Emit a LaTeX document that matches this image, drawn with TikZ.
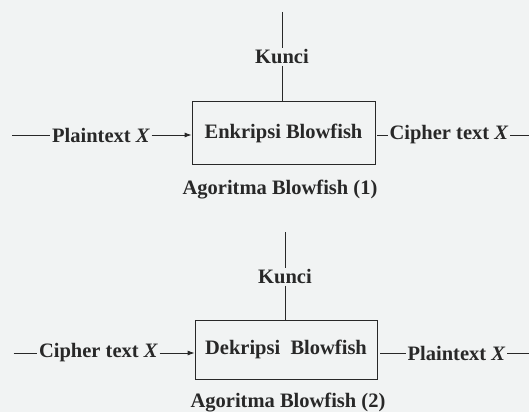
\documentclass[tikz,border=0pt]{standalone}
\usepackage{fontspec}
\setmainfont{Liberation Serif}
\usetikzlibrary{arrows.meta}
\definecolor{paper}{RGB}{241,243,243}
\definecolor{ink}{RGB}{40,40,40}
\tikzset{
  lbl/.style={text=ink, font=\fontsize{20.5}{24}\selectfont\bfseries, inner sep=1.5pt},
  blk/.style={draw=ink, line width=0.8pt, minimum width=183pt, minimum height=63pt, inner sep=0pt, lbl},
  wire/.style={draw=ink, line width=0.8pt},
  arr/.style={wire, -{Latex[length=7pt,width=5pt]}}
}
\begin{document}
\begin{tikzpicture}[x=1pt,y=-1pt]
\fill[paper] (0,0) rectangle (529,412);
\useasboundingbox (0,0) rectangle (529,412);
% ---- diagram 1
\node[blk] (box1) at (283.5,133) {Enkripsi Blowfish};
\node[lbl] (key1) at (282,57) {Kunci};
\coordinate (top1) at (282,12);
\draw[wire] (top1) -- (key1.north);
\draw[wire] (key1.south) -- (key1.south |- box1.north);
\coordinate (l1) at (12,135);
\node[lbl] (in1) at (101,135) {Plaintext \textit{X}};
\draw[wire] (l1) -- (in1.west);
\draw[arr] (in1.east) -- (in1.east -| box1.west);
\node[lbl] (out1) at (449,135) {Cipher text \textit{X}};
\coordinate (r1) at (529,135);
\draw[wire, shorten <=2pt] (out1.west -| box1.east) -- (out1.west);
\draw[wire] (out1.east) -- (r1);
\node[lbl] (cap1) at (280,190) {Agoritma Blowfish (1)};
% ---- diagram 2
\node[blk, minimum width=182pt, minimum height=59pt] (box2) at (286,349.5) {Dekripsi\ \ Blowfish};
\node[lbl] (key2) at (285,277) {Kunci};
\coordinate (top2) at (285,232);
\draw[wire] (top2) -- (key2.north);
\draw[wire] (key2.south) -- (key2.south |- box2.north);
\coordinate (l2) at (13.5,353);
\node[lbl] (in2) at (98.5,353) {Cipher text \textit{X}};
\draw[wire] (l2) -- (in2.west);
\draw[arr] (in2.east) -- (in2.east -| box2.west);
\node[lbl] (out2) at (456.5,353) {Plaintext \textit{X}};
\coordinate (r2) at (529,353);
\draw[wire, shorten <=3pt] (out2.west -| box2.east) -- (out2.west);
\draw[wire] (out2.east) -- (r2);
\node[lbl] (cap2) at (288,403) {Agoritma Blowfish (2)};
\end{tikzpicture}
\end{document}
